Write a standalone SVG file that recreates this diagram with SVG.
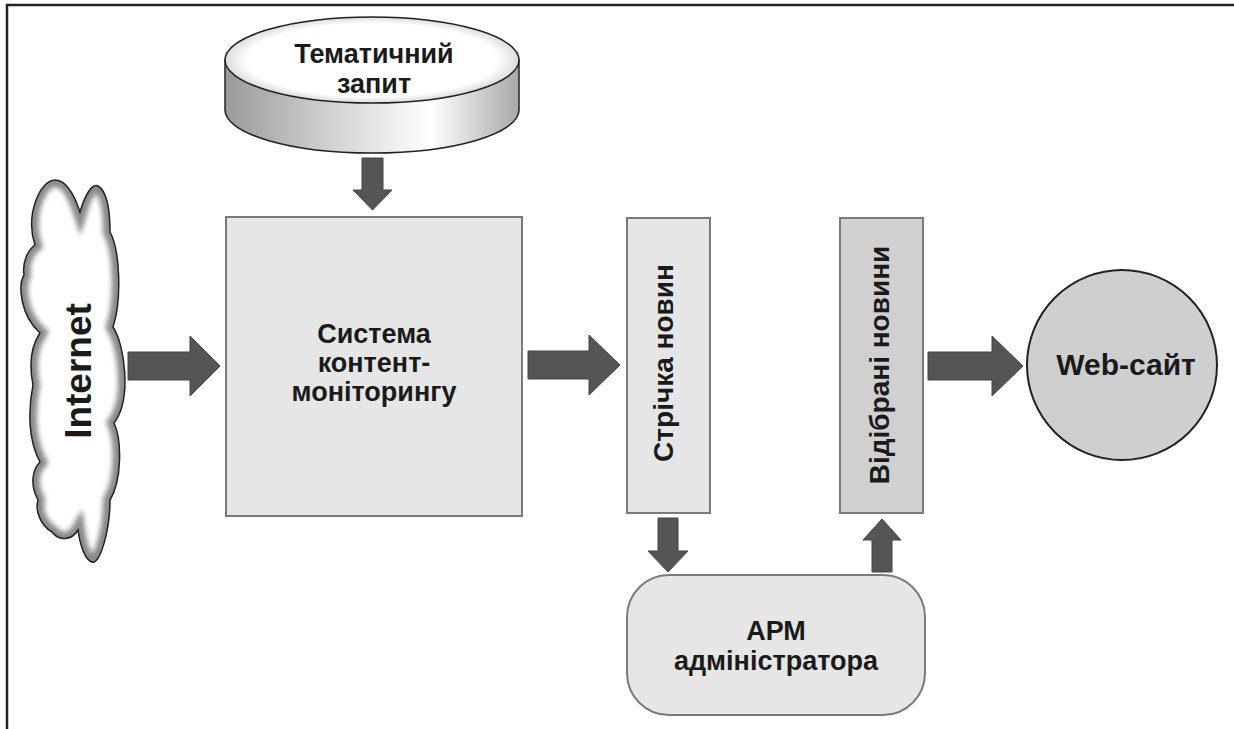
<svg xmlns="http://www.w3.org/2000/svg" width="1234" height="729" viewBox="0 0 1234 729">
<defs>
<style>
.t{font-family:"Liberation Sans",Arial,sans-serif;font-weight:bold;fill:#1a1a1a;text-anchor:middle}
.box{fill:#e6e6e6;stroke:#7a7a7a;stroke-width:2}
.arr{fill:#555;stroke:#444;stroke-width:1}
</style>
<path id="cloudP" d="M35 245 C25 215,40 180,55 180 C68 180,76 200,80 212 C85 195,92 183,98 186 C108 192,110 215,110 232 C120 250,122 300,113 327 C125 345,132 400,114 423 C122 440,122 480,110 500 C110 530,100 565,92 562 C85 560,80 545,78 530 C72 540,60 542,52 532 C40 525,35 510,38 500 C30 485,32 470,40 462 C28 440,28 410,33 385 C28 360,32 345,40 333 C20 315,18 285,24 275 C22 262,28 250,35 245 Z"/>
<clipPath id="cloudClip"><use href="#cloudP"/></clipPath>
<filter id="blur" x="-20%" y="-20%" width="140%" height="140%"><feGaussianBlur stdDeviation="2.5"/></filter>
<linearGradient id="sideG" x1="0" y1="0" x2="1" y2="0">
<stop offset="0" stop-color="#9a9a9a"/>
<stop offset="0.35" stop-color="#d0d0d0"/>
<stop offset="0.7" stop-color="#ffffff"/>
<stop offset="1" stop-color="#a8a8a8"/>
</linearGradient>
<radialGradient id="topG" cx="0.5" cy="0.5" r="0.5">
<stop offset="0" stop-color="#fff"/>
<stop offset="0.85" stop-color="#fff"/>
<stop offset="1" stop-color="#dcdcdc"/>
</radialGradient>
</defs>
<rect width="1234" height="729" fill="#fff"/>
<path d="M7 729 V5 H1234" fill="none" stroke="#222" stroke-width="2.5"/>

<g id="connectors">
<polygon class="arr" points="362,158 383,158 383,190 392,190 372.5,210 353,190 362,190"/>
<polygon class="arr" points="128,352 190,352 190,336 220,366 190,396 190,380 128,380"/>
<polygon class="arr" points="528,351 589,351 589,335 620,365 589,395 589,379 528,379"/>
<polygon class="arr" points="928,352 992,352 992,336 1023,366 992,396 992,380 928,380"/>
<polygon class="arr" points="658,518 678,518 678,551 688,551 668,572 648,551 658,551"/>
<polygon class="arr" points="872,572 892,572 892,540 901,540 882,519 863,540 872,540"/>
</g>

<g id="query">
<path d="M225 60 V110 A147 43 0 0 0 519 110 V60 Z" fill="url(#sideG)" stroke="#222" stroke-width="1.5"/>
<ellipse cx="372" cy="60" rx="147" ry="43" fill="url(#topG)" stroke="#222" stroke-width="1.5"/>
<text class="t" x="374" y="63" font-size="27">Тематичний</text>
<text class="t" x="374" y="93" font-size="27">запит</text>
</g>

<g id="internet">
<use href="#cloudP" fill="#fff"/>
<g clip-path="url(#cloudClip)">
<use href="#cloudP" fill="none" stroke="#8a8a8a" stroke-width="14" filter="url(#blur)"/>
</g>
<use href="#cloudP" fill="none" stroke="#222" stroke-width="1.5"/>
<text class="t" transform="translate(91,371) rotate(-90)" font-size="37">Internet</text>
</g>

<g id="system">
<rect class="box" x="226" y="217" width="296" height="299"/>
<text class="t" x="374" y="343" font-size="27">Система</text>
<text class="t" x="374" y="372" font-size="27">контент-</text>
<text class="t" x="374" y="401" font-size="27">моніторингу</text>
</g>

<g id="feed">
<rect class="box" x="627" y="218" width="83" height="295"/>
<text class="t" transform="translate(673,363) rotate(-90)" font-size="28">Стрічка новин</text>
</g>

<g id="selected">
<rect class="box" x="840" y="218" width="83" height="295" style="fill:#d0d0d0"/>
<text class="t" transform="translate(889,365) rotate(-90)" font-size="28">Відібрані новини</text>
</g>

<g id="admin">
<rect class="box" x="627" y="575" width="298" height="140" rx="42" ry="42"/>
<text class="t" x="776" y="640" font-size="27">АРМ</text>
<text class="t" x="776" y="670" font-size="27">адміністратора</text>
</g>

<g id="website">
<circle cx="1122" cy="365" r="95" fill="#cfcfcf" stroke="#222" stroke-width="2"/>
<text class="t" x="1126" y="375" font-size="30">Web-сайт</text>
</g>
</svg>
